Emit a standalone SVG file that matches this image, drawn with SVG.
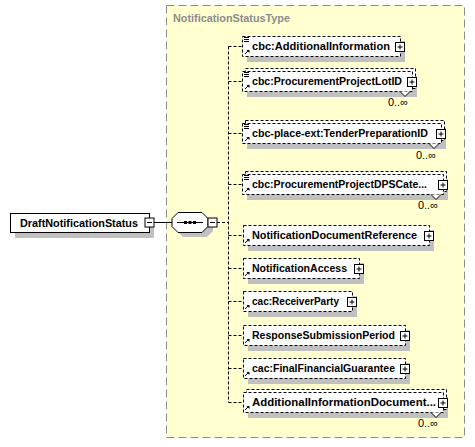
<svg xmlns="http://www.w3.org/2000/svg" width="475" height="447" viewBox="0 0 475 447">
<style>
.bg{fill:#ffffd0;stroke:#8c8c8c;stroke-dasharray:8,4}
.ttl{font-family:"Liberation Sans",Arial,sans-serif;font-size:11px;font-weight:bold;fill:#8c8c8c}
.sh{fill:#c0c0c0}
.box{fill:#fff;stroke:#000;stroke-dasharray:3,2}
.main{fill:#fff;stroke:#000}
.t{font-family:"Liberation Sans",Arial,sans-serif;font-size:11px;font-weight:bold;fill:#000}
.c{font-family:"Liberation Sans",Arial,sans-serif;font-size:11px;fill:#000}
.ln{stroke:#000;fill:none}
.dl{stroke:#000;fill:none;stroke-dasharray:3,2}
.ic{stroke:#000;fill:#fff}
</style>
<defs>
<g id="plus"><rect class="ic" x="-4.5" y="-4.5" width="9" height="9"/><path class="ln" d="M-2.5,0H2.5M0,-2.5V2.5"/></g>
<g id="minus"><rect class="ic" x="-4.5" y="-4.5" width="9" height="9"/><path class="ln" d="M-2.5,0H2.5"/></g>
<g id="doc"><path class="ln" d="M0,0.5H5M0,2.5H5M0,4.5H5"/></g>
<g id="arr"><path class="ln" d="M0,4L3.5,0.5"/><path d="M1.5,0H4.5V3Z" fill="#000"/></g>
<path id="notch" d="M-5,0L0,5L5,0" fill="#fff" stroke="#000"/>
</defs>
<rect class="bg" x="166.5" y="5.5" width="298" height="432"/>
<text class="ttl" x="173" y="22" textLength="117" lengthAdjust="spacingAndGlyphs">NotificationStatusType</text>

<g id="connectors">
<path class="ln" d="M154,222.5H172"/>
<path class="dl" d="M217,222.5H228.5M228.5,46.5V402.5M228.5,46.5H242M228.5,81.5H242M228.5,133.5H242M228.5,184.5H242M228.5,235.5H243M228.5,268.5H243M228.5,301.5H243M228.5,335.5H243M228.5,368.5H243M228.5,402.5H243"/>
</g>

<g id="DraftNotificationStatus">
<rect class="sh" x="15" y="218" width="139" height="20"/>
<rect class="main" x="10.5" y="213.5" width="139" height="19"/>
<text class="t" x="20" y="227" textLength="118" lengthAdjust="spacingAndGlyphs">DraftNotificationStatus</text>
<use href="#minus" x="149.5" y="222.5"/>
</g>

<g id="sequence">
<polygon class="sh" points="183,217 207,217 213,223 213,231 207,237 183,237 177,231 177,223"/>
<polygon class="main" points="178,212.5 202,212.5 208,218.5 208,226.5 202,232.5 178,232.5 172,226.5 172,218.5"/>
<path class="ln" d="M177,222.5H203"/>
<rect x="184" y="221" width="3" height="3"/><rect x="188.5" y="221" width="3" height="3"/><rect x="193" y="221" width="3" height="3"/>
<use href="#minus" x="212.5" y="222.5"/>
</g>

<g id="AdditionalInformation">
<rect class="sh" x="247" y="41" width="158" height="21"/>
<rect class="box" x="242.5" y="36.5" width="158" height="20"/>
<use href="#doc" x="244" y="37"/><use href="#arr" x="245" y="50"/>
<text class="t" x="252" y="50" textLength="138" lengthAdjust="spacingAndGlyphs">cbc:AdditionalInformation</text>
<use href="#plus" x="400" y="47"/>
</g>

<g id="ProcurementProjectLotID">
<rect class="sh" x="247" y="76" width="170" height="21"/>
<rect class="box" x="245.5" y="68.5" width="170" height="20"/>
<rect class="box" x="242.5" y="71.5" width="170" height="20"/>
<use href="#doc" x="244" y="72"/><use href="#arr" x="245" y="85"/>
<text class="t" x="252" y="85" textLength="150" lengthAdjust="spacingAndGlyphs">cbc:ProcurementProjectLotID</text>
<use href="#plus" x="412" y="82"/>
<use href="#notch" x="405" y="91.5"/>
<text class="c" x="408" y="106" text-anchor="end">0..∞</text>
</g>

<g id="TenderPreparationID">
<rect class="sh" x="247" y="128" width="199" height="21"/>
<rect class="box" x="245.5" y="120.5" width="199" height="20"/>
<rect class="box" x="242.5" y="123.5" width="199" height="20"/>
<use href="#doc" x="244" y="124"/><use href="#arr" x="245" y="137"/>
<text class="t" x="252" y="137" textLength="176" lengthAdjust="spacingAndGlyphs">cbc-place-ext:TenderPreparationID</text>
<use href="#plus" x="441" y="134"/>
<use href="#notch" x="434" y="143.5"/>
<text class="c" x="436" y="159" text-anchor="end">0..∞</text>
</g>

<g id="ProcurementProjectDPSCategory">
<rect class="sh" x="247" y="179" width="201" height="21"/>
<rect class="box" x="245.5" y="171.5" width="201" height="20"/>
<rect class="box" x="242.5" y="174.5" width="201" height="20"/>
<use href="#doc" x="244" y="175"/><use href="#arr" x="245" y="188"/>
<text class="t" x="252" y="188" textLength="175" lengthAdjust="spacingAndGlyphs">cbc:ProcurementProjectDPSCate...</text>
<use href="#plus" x="443" y="185"/>
<use href="#notch" x="436" y="194.5"/>
<text class="c" x="438" y="209" text-anchor="end">0..∞</text>
</g>

<g id="NotificationDocumentReference">
<rect class="sh" x="248" y="230" width="186" height="21"/>
<rect class="box" x="243.5" y="225.5" width="186" height="20"/>
<use href="#arr" x="245" y="239"/>
<text class="t" x="252" y="239" textLength="165" lengthAdjust="spacingAndGlyphs">NotificationDocumentReference</text>
<use href="#plus" x="429" y="236"/>
</g>

<g id="NotificationAccess">
<rect class="sh" x="248" y="263" width="116" height="21"/>
<rect class="box" x="243.5" y="258.5" width="116" height="20"/>
<use href="#arr" x="245" y="272"/>
<text class="t" x="252" y="272" textLength="95" lengthAdjust="spacingAndGlyphs">NotificationAccess</text>
<use href="#plus" x="359" y="269"/>
</g>

<g id="ReceiverParty">
<rect class="sh" x="248" y="296" width="109" height="21"/>
<rect class="box" x="243.5" y="291.5" width="109" height="20"/>
<use href="#arr" x="245" y="305"/>
<text class="t" x="252" y="305" textLength="87" lengthAdjust="spacingAndGlyphs">cac:ReceiverParty</text>
<use href="#plus" x="352" y="302"/>
</g>

<g id="ResponseSubmissionPeriod">
<rect class="sh" x="248" y="330" width="162" height="21"/>
<rect class="box" x="243.5" y="325.5" width="162" height="20"/>
<use href="#arr" x="245" y="339"/>
<text class="t" x="252" y="339" textLength="143" lengthAdjust="spacingAndGlyphs">ResponseSubmissionPeriod</text>
<use href="#plus" x="405" y="336"/>
</g>

<g id="FinalFinancialGuarantee">
<rect class="sh" x="248" y="363" width="162" height="21"/>
<rect class="box" x="243.5" y="358.5" width="162" height="20"/>
<use href="#arr" x="245" y="372"/>
<text class="t" x="252" y="372" textLength="143" lengthAdjust="spacingAndGlyphs">cac:FinalFinancialGuarantee</text>
<use href="#plus" x="405" y="369"/>
</g>

<g id="AdditionalInformationDocumentReference">
<rect class="sh" x="248" y="397" width="200" height="21"/>
<rect class="box" x="246.5" y="389.5" width="200" height="20"/>
<rect class="box" x="243.5" y="392.5" width="200" height="20"/>
<use href="#arr" x="245" y="406"/>
<text class="t" x="252" y="406" textLength="184" lengthAdjust="spacingAndGlyphs">AdditionalInformationDocument...</text>
<use href="#plus" x="443" y="403"/>
<use href="#notch" x="436" y="412.5"/>
<text class="c" x="438" y="427" text-anchor="end">0..∞</text>
</g>
</svg>
